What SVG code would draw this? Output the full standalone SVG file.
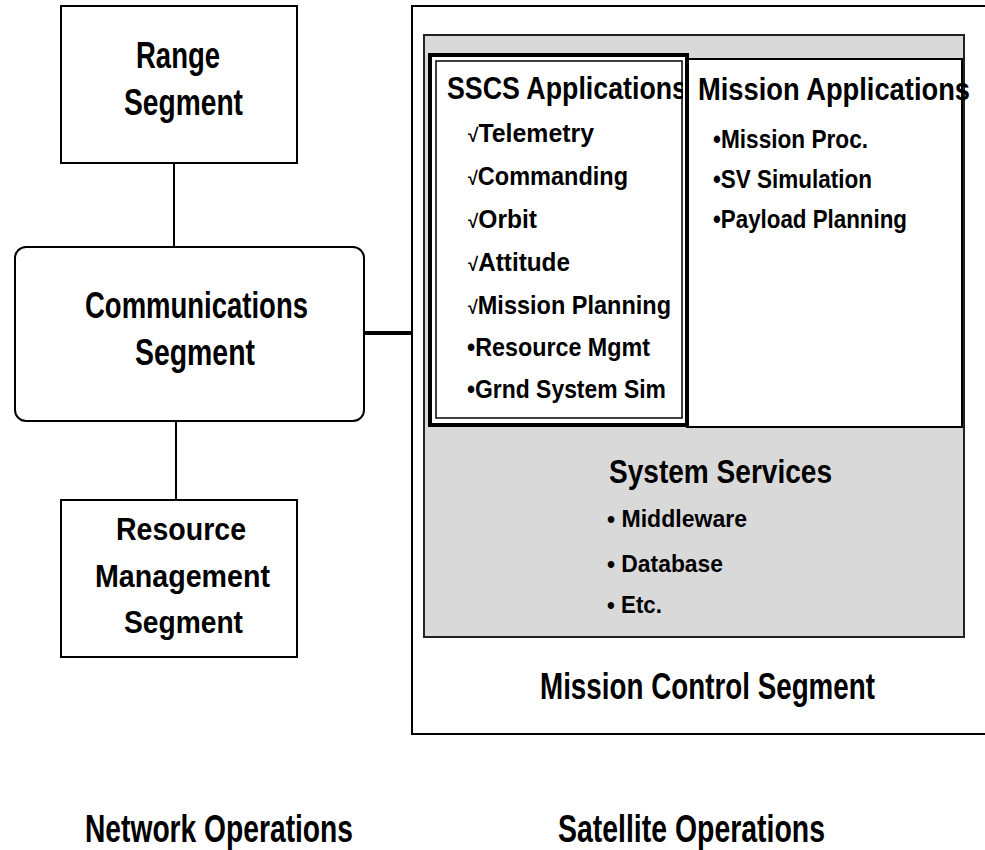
<svg xmlns="http://www.w3.org/2000/svg" width="985" height="850" viewBox="0 0 985 850">
<style>
  .box { fill: #ffffff; stroke: #000000; stroke-width: 2; }
  .gray { fill: #d9d9d9; stroke: #222222; stroke-width: 2; }
  .link { stroke: #000000; stroke-width: 2; fill: none; }
  .thick { stroke: #000000; stroke-width: 4; fill: none; }
  text { font-family: "Liberation Sans", Arial, sans-serif; font-weight: bold; fill: #000000; }
  .t36 { font-size: 36px; }
  .t32 { font-size: 32px; }
  .t34 { font-size: 34px; }
  .t38 { font-size: 38px; }
  .it { font-size: 25px; }
  .it2 { font-size: 24px; }
  .chk { font-size: 19px; }
</style>
<defs>
  <clipPath id="sscsClip"><rect x="430" y="55" width="253" height="370"/></clipPath>
</defs>

<g id="connectors">
  <line class="link" x1="174" y1="163" x2="174" y2="247"/>
  <line class="link" x1="176" y1="421" x2="176" y2="500"/>
  <line class="thick" x1="364" y1="333" x2="413" y2="333"/>
</g>

<g id="range-segment">
  <rect class="box" x="61" y="6" width="236" height="157"/>
  <text class="t36" x="136" y="68" textLength="84" lengthAdjust="spacingAndGlyphs">Range</text>
  <text class="t36" x="124" y="115" textLength="119" lengthAdjust="spacingAndGlyphs">Segment</text>
</g>

<g id="communications-segment">
  <rect class="box" x="15" y="247" width="349" height="174" rx="11" ry="11"/>
  <text class="t36" x="85" y="318" textLength="223" lengthAdjust="spacingAndGlyphs">Communications</text>
  <text class="t36" x="135" y="365" textLength="120" lengthAdjust="spacingAndGlyphs">Segment</text>
</g>

<g id="resource-management-segment">
  <rect class="box" x="61" y="500" width="236" height="157"/>
  <text class="t32" x="116" y="540" textLength="130" lengthAdjust="spacingAndGlyphs">Resource</text>
  <text class="t32" x="95" y="587" textLength="175" lengthAdjust="spacingAndGlyphs">Management</text>
  <text class="t32" x="124" y="633" textLength="119" lengthAdjust="spacingAndGlyphs">Segment</text>
</g>

<g id="mission-control-segment">
  <rect class="box" x="412" y="6" width="620" height="728"/>
  <text class="t36" x="540" y="699" textLength="335" lengthAdjust="spacingAndGlyphs">Mission Control Segment</text>
</g>

<g id="system-services">
  <rect class="gray" x="424" y="35" width="540" height="602"/>
  <text class="t34" x="609" y="483" textLength="223" lengthAdjust="spacingAndGlyphs">System Services</text>
  <text class="it2" x="607" y="527" textLength="140" lengthAdjust="spacingAndGlyphs">• Middleware</text>
  <text class="it2" x="607" y="572" textLength="116" lengthAdjust="spacingAndGlyphs">• Database</text>
  <text class="it2" x="607" y="613" textLength="55" lengthAdjust="spacingAndGlyphs">• Etc.</text>
</g>

<g id="mission-applications">
  <rect class="box" x="687" y="59" width="275" height="368"/>
  <text class="it" x="713" y="148" textLength="155" lengthAdjust="spacingAndGlyphs">•Mission Proc.</text>
  <text class="it" x="713" y="188" textLength="159" lengthAdjust="spacingAndGlyphs">•SV Simulation</text>
  <text class="it" x="713" y="228" textLength="194" lengthAdjust="spacingAndGlyphs">•Payload Planning</text>
</g>

<g id="sscs-applications">
  <rect class="box" x="430" y="55" width="257" height="370" style="stroke-width:4"/>
  <rect x="436" y="61" width="246" height="357" fill="none" stroke="#000000" stroke-width="1.5"/>
  <text class="t32" x="447" y="99" textLength="240" lengthAdjust="spacingAndGlyphs" clip-path="url(#sscsClip)">SSCS Applications</text>
  <text class="it" x="468" y="142" textLength="126" lengthAdjust="spacingAndGlyphs"><tspan class="chk">√</tspan>Telemetry</text>
  <text class="it" x="468" y="185" textLength="160" lengthAdjust="spacingAndGlyphs"><tspan class="chk">√</tspan>Commanding</text>
  <text class="it" x="468" y="228" textLength="69" lengthAdjust="spacingAndGlyphs"><tspan class="chk">√</tspan>Orbit</text>
  <text class="it" x="468" y="271" textLength="102" lengthAdjust="spacingAndGlyphs"><tspan class="chk">√</tspan>Attitude</text>
  <text class="it" x="468" y="314" textLength="203" lengthAdjust="spacingAndGlyphs"><tspan class="chk">√</tspan>Mission Planning</text>
  <text class="it" x="467" y="356" textLength="183" lengthAdjust="spacingAndGlyphs">•Resource Mgmt</text>
  <text class="it" x="467" y="398" textLength="199" lengthAdjust="spacingAndGlyphs">•Grnd System Sim</text>
</g>

<g id="mission-applications-title">
  <text class="t32" x="698" y="100" textLength="272" lengthAdjust="spacingAndGlyphs">Mission Applications</text>
</g>

<g id="network-operations">
  <text class="t38" x="85" y="842" textLength="268" lengthAdjust="spacingAndGlyphs">Network Operations</text>
</g>
<g id="satellite-operations">
  <text class="t38" x="558" y="842" textLength="267" lengthAdjust="spacingAndGlyphs">Satellite Operations</text>
</g>
</svg>
